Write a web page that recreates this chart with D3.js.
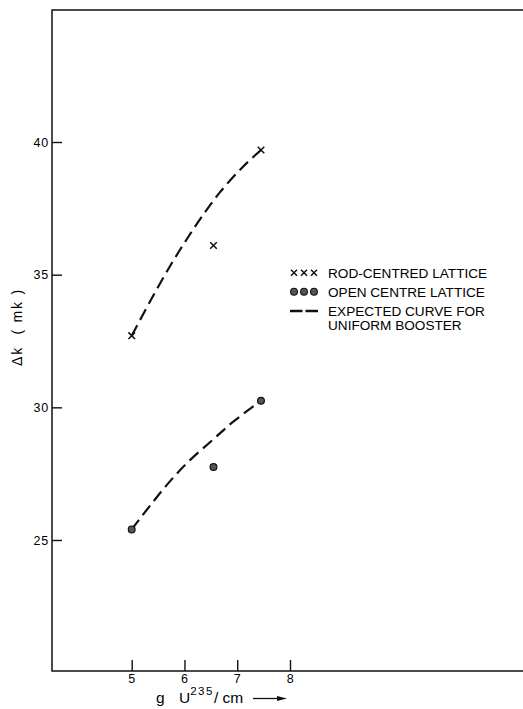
<!DOCTYPE html>
<html>
<head>
<meta charset="utf-8">
<script src="https://cdn.jsdelivr.net/npm/d3@7"></script>
<style>
  html, body { margin: 0; padding: 0; background: #fff; }
  svg { display: block; }
  text { font-family: "Liberation Sans", "DejaVu Sans", sans-serif; fill: #000; }
  .tick text { font-size: 12.5px; letter-spacing: 0.8px; }
  .tick line { stroke: #111; stroke-width: 1.4; }
  .legend text { font-size: 13.6px; }
</style>
</head>
<body>
<svg id="chart" width="523" height="709"></svg>
<script>
// ── Δk vs g U235/cm ──────────────────────────────────────────────────────────
const xTicks = [5, 6, 7, 8];
const yTicks = [25, 30, 35, 40];

// measured points
const rodX = [5.0, 6.55, 7.45];
const rodY = [32.7, 36.1, 39.7];
const openX = [5.0, 6.55, 7.45];
const openY = [25.4, 27.75, 30.25];

// expected curves (uniform booster)
const rodCurveX = [5.0, 5.35, 5.72, 6.0, 6.3, 6.67, 7.1, 7.45];
const rodCurveY = [32.7, 34.0, 35.3, 36.2, 37.1, 38.1, 39.05, 39.7];
const openCurveX = [5.0, 5.35, 5.72, 6.1, 6.55, 6.92, 7.45];
const openCurveY = [25.4, 26.3, 27.2, 28.0, 28.8, 29.45, 30.25];

const legendLabels = [
    ['ROD-CENTRED LATTICE'],
    ['OPEN CENTRE LATTICE'],
    ['EXPECTED CURVE FOR', 'UNIFORM BOOSTER']
];

(function () {
    const svg = d3.select('#chart');

    const x = d3.scaleLinear().domain([5, 8]).range([131.7, 290]);
    const y = d3.scaleLinear().domain([25, 40]).range([540, 142]);

    const fLeft = 52, fTop = 10, fBottom = 671, fRight = 523;

    // frame: left, top and bottom edges
    svg.append('path')
        .attr('d', `M${fRight},${fTop}H${fLeft}V${fBottom}H${fRight}`)
        .attr('fill', 'none')
        .attr('stroke', '#111')
        .attr('stroke-width', 1.5);

    // y axis, ticks pointing inward
    svg.append('g')
        .attr('transform', `translate(${fLeft},0)`)
        .call(d3.axisLeft(y).tickValues(yTicks).tickFormat(d3.format('d'))
            .tickSizeInner(-10).tickSizeOuter(0).tickPadding(3))
        .call(g => g.select('.domain').remove());

    // x axis, ticks pointing upward
    svg.append('g')
        .attr('transform', `translate(0,${fBottom})`)
        .call(d3.axisBottom(x).tickValues(xTicks).tickFormat(d3.format('d'))
            .tickSizeInner(-11).tickSizeOuter(0).tickPadding(3))
        .call(g => g.select('.domain').remove());

    // axis titles
    svg.append('text')
        .attr('transform', 'translate(21.5,327) rotate(-90)')
        .attr('text-anchor', 'middle')
        .attr('xml:space', 'preserve')
        .style('font-size', '14px')
        .style('letter-spacing', '1.8px')
        .text('\u0394k  ( mk )');

    svg.append('text').attr('x', 156).attr('y', 703).style('font-size', '15.5px').text('g');
    const xt = svg.append('text')
        .attr('x', 179)
        .attr('y', 703)
        .style('font-size', '15.5px');
    xt.append('tspan').text('U');
    xt.append('tspan').attr('dy', -8).style('font-size', '11.5px')
        .style('letter-spacing', '1.5px').text('235');
    xt.append('tspan').attr('dy', 8).text('/ cm');

    svg.append('line')
        .attr('x1', 253).attr('x2', 278)
        .attr('y1', 698.5).attr('y2', 698.5)
        .attr('stroke', '#111').attr('stroke-width', 1.3);
    svg.append('path')
        .attr('d', 'M277,696 L287,698.5 L277,701 Z')
        .attr('fill', '#111');

    // dashed expected curves
    const line = d3.line()
        .x(d => x(d[0]))
        .y(d => y(d[1]))
        .curve(d3.curveCatmullRom.alpha(0.5));

    [[rodCurveX, rodCurveY], [openCurveX, openCurveY]].forEach(([cx, cy]) => {
        svg.append('path')
            .datum(d3.zip(cx, cy))
            .attr('d', line)
            .attr('fill', 'none')
            .attr('stroke', '#111')
            .attr('stroke-width', 2.2)
            .attr('stroke-dasharray', '12,6');
    });

    // crosses
    function cross(g, cx, cy, s) {
        g.append('path')
            .attr('d', `M${cx - s},${cy - s}L${cx + s},${cy + s}M${cx - s},${cy + s}L${cx + s},${cy - s}`)
            .attr('stroke', '#111')
            .attr('stroke-width', 1.5)
            .attr('fill', 'none');
    }
    const marks = svg.append('g');
    d3.zip(rodX, rodY).forEach(d => cross(marks, x(d[0]), y(d[1]), 3.3));

    // filled circles
    marks.selectAll('circle.open')
        .data(d3.zip(openX, openY))
        .join('circle')
        .attr('class', 'open')
        .attr('cx', d => x(d[0]))
        .attr('cy', d => y(d[1]))
        .attr('r', 3.4)
        .attr('fill', '#555')
        .attr('stroke', '#111')
        .attr('stroke-width', 1.2);

    // legend
    const lg = svg.append('g').attr('class', 'legend');
    const rowY = [272.7, 291.7, 311];
    const symX = 290, textX = 328;

    [0, 1, 2].forEach(i => cross(lg, symX + 4 + i * 10, rowY[0], 3));
    [0, 1, 2].forEach(i => {
        lg.append('circle')
            .attr('cx', symX + 4 + i * 10).attr('cy', rowY[1])
            .attr('r', 3.4)
            .attr('fill', '#555').attr('stroke', '#111').attr('stroke-width', 1.1);
    });
    lg.append('line')
        .attr('x1', symX).attr('x2', symX + 28)
        .attr('y1', rowY[2]).attr('y2', rowY[2])
        .attr('stroke', '#111').attr('stroke-width', 2.4)
        .attr('stroke-dasharray', '12.5,3');

    legendLabels.forEach((lines, i) => {
        lines.forEach((t, j) => {
            lg.append('text')
                .attr('x', textX)
                .attr('y', rowY[i] + 5 + j * 14)
                .text(t);
        });
    });
})();
</script>
</body>
</html>
